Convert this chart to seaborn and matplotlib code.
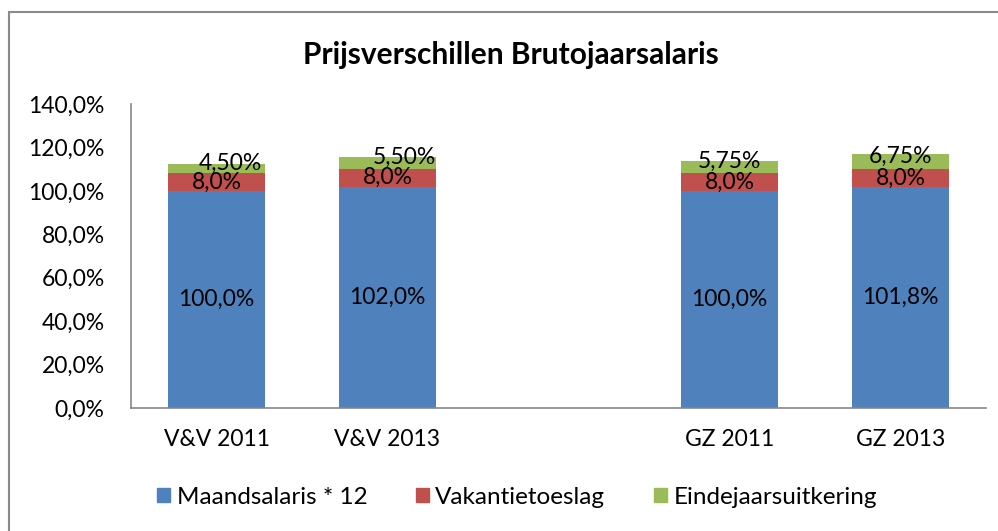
import matplotlib
matplotlib.use("Agg")
import matplotlib.pyplot as plt
from matplotlib.patches import Rectangle, Patch
import numpy as np
import pandas as pd
import seaborn as sns

sns.set_style("white")
plt.rcParams["font.family"] = ["Lato", "DejaVu Sans"]

# data (percent of 2011 monthly salary * 12)
categories = ["V&V 2011", "V&V 2013", "GZ 2011", "GZ 2013"]
slot_order = ["V&V 2011", "V&V 2013", "", "GZ 2011", "GZ 2013"]
maandsalaris = [100.0, 102.0, 100.0, 101.8]
vakantiegeld = [8.0, 8.16, 8.0, 8.14]
eindejaars = [4.5, 5.61, 5.75, 6.87]

label_maand = ["100,0%", "102,0%", "100,0%", "101,8%"]
label_vak = ["8,0%", "8,0%", "8,0%", "8,0%"]
label_eind = ["4,50%", "5,50%", "5,75%", "6,75%"]

series = ["Maandsalaris * 12", "Vakantietoeslag", "Eindejaarsuitkering"]
colors = ["#4F81BD", "#C0504D", "#9BBB59"]

df = pd.DataFrame({"cat": categories, "maand": maandsalaris,
                   "vak": vakantiegeld, "eind": eindejaars})
df["tot_vak"] = df["maand"] + df["vak"]
df["tot_eind"] = df["tot_vak"] + df["eind"]

fig = plt.figure(figsize=(9.98, 5.31), dpi=100)
ax = fig.add_axes([131 / 998, 1 - 408 / 531, 855 / 998, 304 / 531])

# stacked bars: draw cumulative totals from tallest to shortest
for col, color in zip(["tot_eind", "tot_vak", "maand"], colors[::-1]):
    sns.barplot(data=df, x="cat", y=col, order=slot_order, color=color,
                width=0.57, saturation=1, linewidth=0, ax=ax, errorbar=None)

# excel nudged the first two top labels a bit to the right
eind_dx = [0.08, 0.1, 0.0, 0.0]
pos = {c: i for i, c in enumerate(slot_order)}
lab_fs = 16.5
for i, row in df.iterrows():
    x = pos[row["cat"]]
    ax.text(x, row["maand"] / 2, label_maand[i], ha="center", va="center",
            fontsize=lab_fs, color="black")
    ax.text(x, row["maand"] + row["vak"] / 2, label_vak[i], ha="center", va="center",
            fontsize=lab_fs, color="black")
    ax.text(x + eind_dx[i], row["tot_vak"] + row["eind"] / 2 + 2.5, label_eind[i],
            ha="center", va="center", fontsize=lab_fs, color="black")

ax.set_ylim(0, 140)
ax.set_xlim(-0.5, 4.5)
yt = np.arange(0, 141, 20)
ax.set_yticks(yt)
ax.set_yticklabels([f"{v:.1f}%".replace(".", ",") for v in yt], fontsize=16.5)
ax.tick_params(axis="y", length=0, pad=19, labelcolor="black")
ax.tick_params(axis="x", length=0, pad=15, labelsize=16.5, labelcolor="black")
ax.set_xlabel("")
ax.set_ylabel("")
for s in ["top", "right"]:
    ax.spines[s].set_visible(False)
for s in ["left", "bottom"]:
    ax.spines[s].set_color("#868686")
    ax.spines[s].set_linewidth(1.2)

fig.text(0.5115, 1 - 55 / 531, "Prijsverschillen Brutojaarsalaris", ha="center", va="center",
         fontsize=21.5, fontweight="bold", color="black")

handles = [Patch(color=c) for c in colors]
leg = fig.legend(handles, series, loc="center", bbox_to_anchor=(0.518, 1 - 497 / 531), ncol=3,
                 frameon=False, fontsize=17.5, handlelength=0.55, handleheight=0.55,
                 handletextpad=0.25, columnspacing=2.0)
for t in leg.get_texts():
    t.set_color("black")

fig.patches.append(Rectangle((8.5 / 998, -0.1), 1.2, (531 - 11.5) / 531 + 0.1,
                             transform=fig.transFigure, fill=False,
                             edgecolor="#8a8a8a", linewidth=1.5))

fig.savefig("out.png", dpi=100)
